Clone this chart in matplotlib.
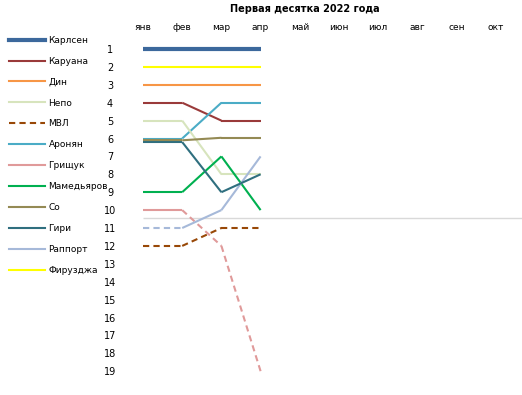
import matplotlib
matplotlib.use("Agg")
import matplotlib.pyplot as plt
from matplotlib.lines import Line2D

months = ['янв', 'фев', 'мар', 'апр', 'май', 'июн', 'июл', 'авг', 'сен', 'окт']
rank_ticks = list(range(1, 20))

carlsen = [1, 1, 1, 1]
caruana = [4, 4, 5, 5]
ding = [3, 3, 3, 3]
nepo = [5, 5, 8, 8]
mvl = [12, 12, 11, 11]
aronian = [6, 6, 4, 4]
grischuk = [10, 10, 12, 19]
mamedyarov = [9, 9, 7, 10]
so = [6.1, 6.1, 5.96, 5.96]
giri = [6.2, 6.2, 9, 8]
rapport = [11, 11, 10, 7]
firouzja = [2, 2, 2, 2]
cutoff = 10.45

names = ['Карлсен', 'Каруана', 'Дин', 'Непо', 'МВЛ', 'Аронян', 'Грищук',
         'Мамедьяров', 'Со', 'Гири', 'Раппорт', 'Фирузджа']
values = [carlsen, caruana, ding, nepo, mvl, aronian, grischuk,
          mamedyarov, so, giri, rapport, firouzja]
colors = ['#3c689c', '#9a3a3a', '#f79646', '#d7e4bd', '#984807', '#4bacc6',
          '#e09a9a', '#00b050', '#948a54', '#2f6f7f', '#a6b9d9', '#ffff00']
widths = [3.0, 1.5, 1.5, 1.5, 1.5, 1.5, 1.5, 1.5, 1.5, 1.5, 1.5, 1.5]
# dashed segments per series: (start_idx, end_idx)
dashed = {'МВЛ': [(0, 3)], 'Грищук': [(1, 3)], 'Раппорт': [(0, 1)]}

W, H = 522, 395
fig = plt.figure(figsize=(W / 100, H / 100), dpi=100)
left_px, right_px, top_px, bot_px = 123.4, 522, 40, 390
ax = fig.add_axes([left_px / W, 1 - bot_px / H, (right_px - left_px) / W, (bot_px - top_px) / H])

step = 39.2
ax.set_xlim(-0.5, -0.5 + (right_px - left_px) / step)
ppr = 17.9
ax.set_ylim(19 + (bot_px - 49 - 18 * ppr) / ppr, 1 - (49 - top_px) / ppr)

ax.hlines(cutoff, 0, ax.get_xlim()[1], color='#d9d9d9', lw=1.0, zorder=1)

x = list(range(4))
draw_order = [11, 2, 1, 5, 3, 4, 6, 7, 10, 9, 8, 0]
for i in draw_order:
    n, v, c, w = names[i], values[i], colors[i], widths[i]
    segs = dashed.get(n, [])
    for k in range(len(v) - 1):
        is_dash = any(a <= k < b for a, b in segs)
        ax.plot([x[k], x[k + 1]], [v[k], v[k + 1]], color=c, lw=w,
                ls=(0, (3, 2)) if is_dash else '-', solid_capstyle='butt',
                dash_capstyle='butt', zorder=3 + (1 if i == 0 else 0))

ax.xaxis.tick_top()
ax.set_xticks(range(len(months)))
ax.set_xticklabels(months, fontsize=6.5)
ax.tick_params(axis='x', length=0, pad=6)
ax.set_yticks(rank_ticks)
ax.set_yticklabels([str(r) for r in rank_ticks], fontsize=7, ha='center')
ax.tick_params(axis='y', length=0, pad=9.6)
for s in ax.spines.values():
    s.set_visible(False)

handles = []
for i, n in enumerate(names):
    ls = (0, (3, 2)) if n == 'МВЛ' else '-'
    handles.append(Line2D([], [], color=colors[i], lw=widths[i], ls=ls))
fig.legend(handles, names, loc='upper left', bbox_to_anchor=(7 / W, 1 - 34 / H),
           frameon=False, fontsize=6.5, handlelength=4.0, handletextpad=0.4,
           labelspacing=1.32, borderpad=0.2, borderaxespad=0)

fig.text(305 / W, 1 - 9 / H, 'Первая десятка 2022 года', ha='center', va='center',
         fontsize=7, fontweight='bold')

fig.savefig('out.png', dpi=100)
